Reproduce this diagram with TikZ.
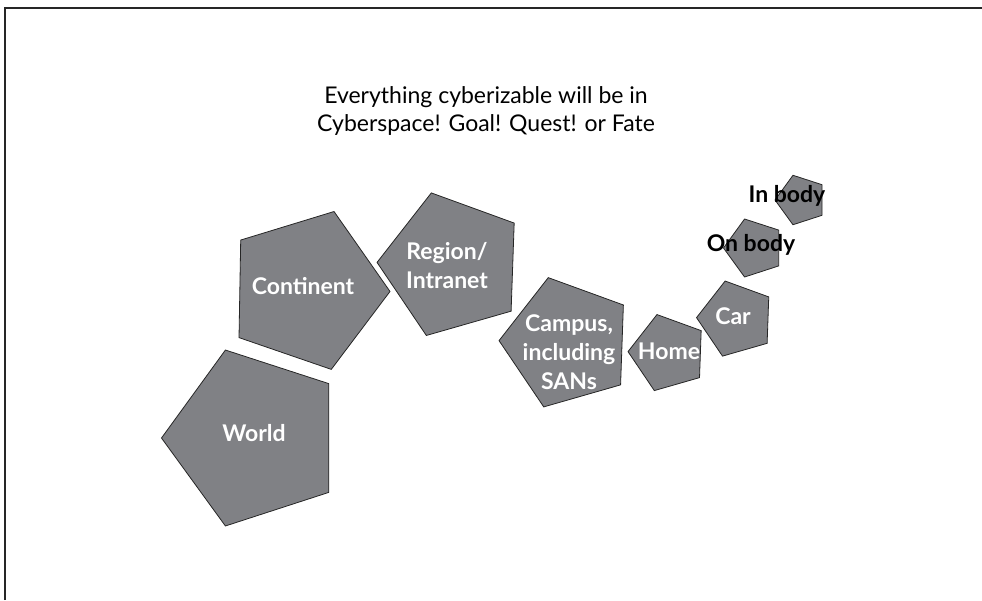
\documentclass[tikz,border=0pt]{standalone}
\usepackage{fontspec}
\setmainfont{Lato}
\usepackage{tikz}
\usetikzlibrary{shapes.geometric}

\definecolor{slate}{RGB}{128,129,133}

\begin{document}
\begin{tikzpicture}[x=1pt,y=-1pt,
  every node/.style={font=\bfseries\fontsize{23}{29}\selectfont,align=center,inner sep=0pt},
  penta/.style={regular polygon,regular polygon sides=5,draw=black!85,fill=slate,line width=0.8pt}]
  \useasboundingbox (0,0) rectangle (982,600);
  \draw[black!85,line width=1.8pt] (5,600) -- (5,8) -- (982,8);

  \node[font=\fontsize{23}{28}\selectfont] (title) at (486,111)
    {Everything cyberizable will be in\\Cyberspace! Goal! Quest! or Fate};

  % pentagons, biggest to smallest
  \node[penta,minimum size=166,shape border rotate=-91] (continent) at (307,290) {};
  \node[penta,minimum size=185,shape border rotate=90]  (world)     at (254,438) {};
  \node[penta,minimum size=150,shape border rotate=88]  (region)    at (452,265) {};
  \node[penta,minimum size=136,shape border rotate=88]  (campus)    at (567,343) {};
  \node[penta,minimum size=80,shape border rotate=88]   (home)      at (668,353) {};
  \node[penta,minimum size=79,shape border rotate=88]   (car)       at (736,319) {};
  \node[penta,minimum size=61,shape border rotate=90]   (onbody)    at (754,248) {};
  \node[penta,minimum size=52,shape border rotate=90]   (inbody)    at (801,200) {};

  \begin{scope}[every node/.append style={text=white}]
    \node (continent-l) at (303,286) {Continent};
    \node (world-l)     at (254,433) {World};
    \node (region-l)    at (447,266) {Region/\\Intranet};
    \node (campus-l)    at (569,352) {Campus,\\including\\SANs};
    \node (home-l)      at (669,351) {Home};
    \node (car-l)       at (733,316) {Car};
  \end{scope}
  \node (onbody-l) at (751,245) {On body};
  \node (inbody-l) at (787,196) {In body};
\end{tikzpicture}
\end{document}
